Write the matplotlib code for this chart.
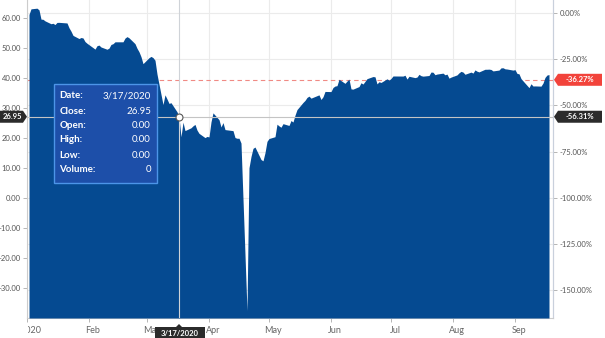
import matplotlib
matplotlib.use("Agg")
import matplotlib.pyplot as plt
import matplotlib.dates as mdates
import pandas as pd
from matplotlib.patches import Polygon, Rectangle
from matplotlib.transforms import Bbox, TransformedBbox, ScaledTranslation

plt.rcParams['font.family'] = ['Lato', 'DejaVu Sans']

# ---------------- data ----------------
dates = [
    "2020-01-02", "2020-01-03", "2020-01-06", "2020-01-07", "2020-01-08", "2020-01-09", "2020-01-10",
    "2020-01-13", "2020-01-14", "2020-01-15", "2020-01-16", "2020-01-17", "2020-01-21", "2020-01-22",
    "2020-01-23", "2020-01-24", "2020-01-27", "2020-01-28", "2020-01-29", "2020-01-30", "2020-01-31",
    "2020-02-03", "2020-02-04", "2020-02-05", "2020-02-06", "2020-02-07", "2020-02-10", "2020-02-11",
    "2020-02-12", "2020-02-13", "2020-02-14", "2020-02-18", "2020-02-19", "2020-02-20", "2020-02-21",
    "2020-02-24", "2020-02-25", "2020-02-26", "2020-02-27", "2020-02-28",
    "2020-03-02", "2020-03-03", "2020-03-04", "2020-03-05", "2020-03-06", "2020-03-09", "2020-03-10",
    "2020-03-11", "2020-03-12", "2020-03-13", "2020-03-16", "2020-03-17", "2020-03-18", "2020-03-19",
    "2020-03-20", "2020-03-23", "2020-03-24", "2020-03-25", "2020-03-26", "2020-03-27", "2020-03-30",
    "2020-03-31",
    "2020-04-01", "2020-04-02", "2020-04-03", "2020-04-06", "2020-04-07", "2020-04-08", "2020-04-09",
    "2020-04-13", "2020-04-14", "2020-04-15", "2020-04-16", "2020-04-17", "2020-04-20", "2020-04-21",
    "2020-04-22", "2020-04-23", "2020-04-24", "2020-04-27", "2020-04-28", "2020-04-29", "2020-04-30",
    "2020-05-01", "2020-05-04", "2020-05-05", "2020-05-06", "2020-05-07", "2020-05-08", "2020-05-11",
    "2020-05-12", "2020-05-13", "2020-05-14", "2020-05-15", "2020-05-18", "2020-05-19", "2020-05-20",
    "2020-05-21", "2020-05-22", "2020-05-26", "2020-05-27", "2020-05-28", "2020-05-29",
    "2020-06-01", "2020-06-02", "2020-06-03", "2020-06-04", "2020-06-05", "2020-06-08", "2020-06-09",
    "2020-06-10", "2020-06-11", "2020-06-12", "2020-06-15", "2020-06-16", "2020-06-17", "2020-06-18",
    "2020-06-19", "2020-06-22", "2020-06-23", "2020-06-24", "2020-06-25", "2020-06-26", "2020-06-29",
    "2020-06-30",
    "2020-07-01", "2020-07-02", "2020-07-06", "2020-07-07", "2020-07-08", "2020-07-09", "2020-07-10",
    "2020-07-13", "2020-07-14", "2020-07-15", "2020-07-16", "2020-07-17", "2020-07-20", "2020-07-21",
    "2020-07-22", "2020-07-23", "2020-07-24", "2020-07-27", "2020-07-28", "2020-07-29", "2020-07-30",
    "2020-07-31",
    "2020-08-03", "2020-08-04", "2020-08-05", "2020-08-06", "2020-08-07", "2020-08-10", "2020-08-11",
    "2020-08-12", "2020-08-13", "2020-08-14", "2020-08-17", "2020-08-18", "2020-08-19", "2020-08-20",
    "2020-08-21", "2020-08-24", "2020-08-25", "2020-08-26", "2020-08-27", "2020-08-28", "2020-08-31",
    "2020-09-01", "2020-09-02", "2020-09-03", "2020-09-04", "2020-09-08", "2020-09-09", "2020-09-10",
    "2020-09-11", "2020-09-14", "2020-09-15", "2020-09-16", "2020-09-17", "2020-09-18",
]
closes = [
    61.18, 63.05, 63.27, 62.70, 59.61, 59.56, 59.04,
    58.08, 58.23, 57.81, 58.52, 58.54, 58.34, 56.74,
    55.59, 54.19, 53.14, 53.48, 53.33, 52.14, 51.56,
    50.11, 49.61, 50.75, 50.95, 50.32, 49.57, 49.94,
    51.17, 51.42, 52.05, 52.05, 53.29, 53.78, 53.38,
    51.43, 49.90, 48.73, 47.09, 44.76,
    46.75, 47.18, 46.78, 45.90, 41.28, 31.13, 34.36,
    32.98, 31.50, 31.73, 28.70, 26.95, 20.37, 25.22,
    22.43, 23.36, 24.01, 24.49, 22.60, 21.51, 20.09,
    20.48,
    20.31, 25.32, 28.34, 26.08, 23.63, 25.09, 22.76,
    22.41, 20.11, 19.87, 19.87, 18.27, -37.63, 10.01,
    13.78, 16.50, 16.94, 12.78, 12.34, 15.06, 18.84,
    19.78, 20.39, 24.56, 23.99, 23.55, 24.74, 24.14,
    25.78, 25.29, 27.56, 29.43, 31.82, 32.50, 33.49,
    33.92, 33.25, 34.35, 32.81, 33.71, 35.49,
    35.44, 36.81, 37.29, 37.41, 39.55, 38.19, 38.94,
    39.60, 36.34, 36.26, 37.12, 38.38, 37.96, 38.84,
    39.75, 40.46, 40.37, 38.01, 38.72, 38.49, 39.70,
    39.27,
    39.82, 40.65, 40.63, 40.62, 40.90, 39.62, 40.55,
    40.10, 40.29, 41.20, 40.75, 40.59, 40.81, 41.96,
    41.90, 41.07, 41.29, 41.60, 41.04, 41.27, 39.92,
    40.27,
    41.01, 41.70, 42.19, 41.95, 41.22, 41.94, 41.61,
    42.67, 42.24, 42.01, 42.89, 42.89, 42.93, 42.82,
    42.34, 42.62, 43.35, 43.39, 43.04, 42.97, 42.61,
    42.76, 41.51, 41.37, 39.77, 36.76, 38.05, 37.30,
    37.33, 37.26, 38.28, 40.16, 40.97, 41.11,
]
price_ticks = [60, 50, 40, 30, 20, 10, 0, -10, -20, -30]
pct_ticks = [0, -25, -50, -75, -100, -125, -150]
month_ticks = ["2020-01-01", "2020-02-01", "2020-03-01", "2020-04-01", "2020-05-01",
               "2020-06-01", "2020-07-01", "2020-08-01", "2020-09-01"]
month_labels = ["2020", "Feb", "Mar", "Apr", "May", "Jun", "Jul", "Aug", "Sep"]
pct_base = 61.68          # price corresponding to 0.00 %
last_price = 39.31        # current quote (red dashed line)
sel_date = "2020-03-17"   # crosshair / tooltip
tooltip_fields = ["Date:", "Close:", "Open:", "High:", "Low:", "Volume:"]
tooltip_values = ["3/17/2020", "26.95", "0.00", "0.00", "0.00", "0"]

# ---------------- figure ----------------
W, H = 605, 338
fig = plt.figure(figsize=(W / 100, H / 100), dpi=100)
fig.patch.set_facecolor("white")
ax = fig.add_axes([27 / W, 1 - 318 / H, (553 - 27) / W, 318 / H])

d = pd.to_datetime(dates)
ymin, ymax = -40.1, 66.0
ax.set_ylim(ymin, ymax)
ax.set_xlim(pd.Timestamp("2020-01-01"), pd.Timestamp("2020-09-20"))

AREA = "#054a91"
ax.fill_between(d, closes, ymin, color=AREA, lw=0, zorder=3)

# grid
mt = pd.to_datetime(month_ticks)
for m in mt:
    ax.axvline(m, color="#ebebeb", lw=0.8, zorder=1)
for p in pct_ticks:
    ax.axhline(pct_base * (1 + p / 100), color="#ebebeb", lw=0.8, zorder=1)

# last price dashed line (behind area)
ax.axhline(last_price, color="#f08a84", lw=0.8, ls=(0, (4, 3)), zorder=2)

# crosshair
sd = pd.Timestamp(sel_date)
sel_close = closes[dates.index(sel_date)]
ax.axvline(sd, color="#cfd3d8", lw=0.8, zorder=4)
ax.axhline(sel_close, color="#c4c4c4", lw=0.8, zorder=4)
ax.plot([sd], [sel_close], "o", ms=5, mfc="white", mec="#555555", mew=0.8, zorder=6)

# axes styling
ax.spines["top"].set_visible(False)
for s in ["left", "bottom", "right"]:
    ax.spines[s].set_color("#cccccc")
    ax.spines[s].set_linewidth(0.8)
ax.spines["right"].set_color("#c9d0dc")

ax.set_yticks(price_ticks)
ax.set_yticklabels([f"{v:.2f}" for v in price_ticks])
ax.tick_params(axis="y", length=3, width=0.6, color="#aaaaaa", labelsize=5.5,
               labelcolor="#555555", pad=1.5)
ax.set_xticks(mt)
ax.set_xticklabels(month_labels)
ax.tick_params(axis="x", length=3, width=0.6, color="#aaaaaa", labelsize=6.5,
               labelcolor="#666666", pad=2.5)

sec = ax.secondary_yaxis("right", functions=(lambda y: (y / pct_base - 1) * 100,
                                             lambda p: pct_base * (1 + p / 100)))
sec.set_yticks(pct_ticks)
sec.set_yticklabels([f"{v:.2f}%" for v in pct_ticks])
sec.tick_params(axis="y", length=3, width=0.6, color="#aaaaaa", labelsize=5.5,
                labelcolor="#555555", pad=1.5)
sec.spines["right"].set_color("#c9d0dc")
sec.spines["right"].set_linewidth(0.8)

# shift x labels slightly right and clip the first
off = ScaledTranslation(4 / 100, 0, fig.dpi_scale_trans)
for i, t in enumerate(ax.xaxis.get_major_ticks()):
    t.label1.set_transform(t.label1.get_transform() + off)
    if i == 0:
        t.label1.set_clip_box(TransformedBbox(Bbox.from_extents(28 / W, 0, 1, 1), fig.transFigure))
        t.label1.set_clip_on(True)


def P(x, y):
    return (x / W, 1 - y / H)


def tag(points, color, tx, ty, text):
    fig.add_artist(Polygon([P(x, y) for x, y in points], closed=True, transform=fig.transFigure,
                           facecolor=color, edgecolor="none", zorder=5))
    fig.text(*P(tx, ty), text, color="white", fontsize=5.5, fontweight="bold",
             ha="center", va="center", zorder=6)


yc = 197.3 - sel_close * 2.989
yr = 197.3 - last_price * 2.989
sel_pct = (sel_close / pct_base - 1) * 100
last_pct = (last_price / pct_base - 1) * 100
tag([(0, yc - 6), (23, yc - 6), (27, yc), (23, yc + 6), (0, yc + 6)], "#2b2b2b", 12, yc,
    f"{sel_close:.2f}")
tag([(554, yc), (558, yc - 6), (602, yc - 6), (602, yc + 6), (558, yc + 6)], "#2b2b2b", 580, yc,
    f"{sel_pct:.2f}%")
tag([(554, yr), (558, yr - 6), (602, yr - 6), (602, yr + 6), (558, yr + 6)], "#f2433b", 580, yr,
    f"{last_pct:.2f}%")
tag([(155, 327), (176, 327), (179, 324), (182, 327), (205, 327), (205, 340), (155, 340)],
    "#2b2b2b", 180, 333, sd.strftime("%-m/%-d/%Y"))

# tooltip
x0, y0, x1, y1 = 54, 83.5, 157, 182.5
fig.add_artist(Rectangle(P(x0, y1), (x1 - x0) / W, (y1 - y0) / H, transform=fig.transFigure,
                         facecolor="#1d4fa9", edgecolor="#4c95e8", lw=1.0, zorder=5))
row_y = [96, 111, 125.5, 140, 155, 169.5]
for f, v, ry in zip(tooltip_fields, tooltip_values, row_y):
    fig.text(*P(59.5, ry), f, color="white", fontsize=7, fontweight="bold", ha="left",
             va="center", zorder=6)
    fig.text(*P(151, ry), v, color="white", fontsize=7, ha="right", va="center", zorder=6)

fig.savefig("out.png", dpi=100, facecolor="white")
